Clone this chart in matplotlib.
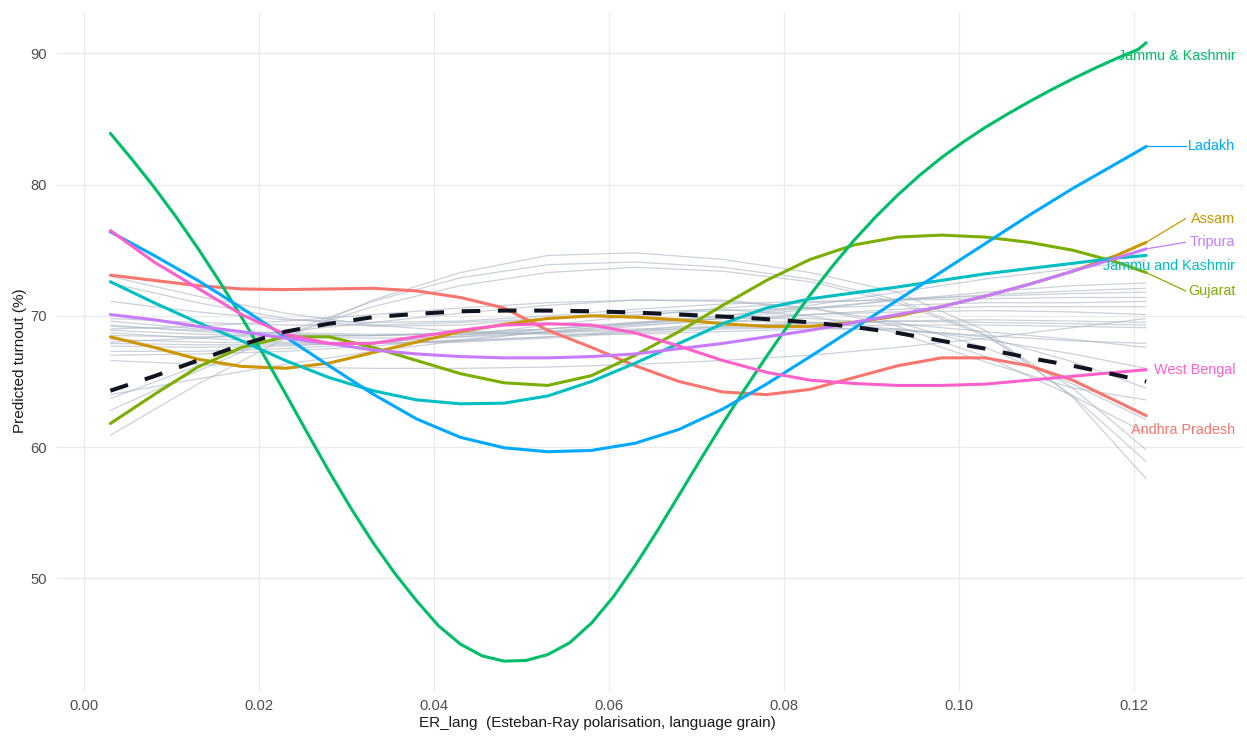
import matplotlib
matplotlib.use("Agg")
import matplotlib.pyplot as plt

# ---- data -------------------------------------------------------------
# ER_lang evaluation grid for the highlighted states and the overall curve
x_fine = [0.003, 0.008, 0.013, 0.018, 0.023, 0.028, 0.033, 0.038, 0.043,
          0.048, 0.053, 0.058, 0.063, 0.068, 0.073, 0.078, 0.083, 0.088,
          0.093, 0.098, 0.103, 0.108, 0.113, 0.118, 0.1214]

andhra_pradesh = [73.1, 72.7, 72.3, 72.05, 72.0, 72.05, 72.1, 71.9, 71.4, 70.6,
                  68.9, 67.6, 66.2, 65.0, 64.2, 64.0, 64.4, 65.3, 66.2, 66.8,
                  66.8, 66.2, 65.1, 63.5, 62.4]
assam = [68.4, 67.6, 66.7, 66.15, 66.0, 66.4, 67.2, 68.0, 68.8, 69.35, 69.8,
         70.0, 69.9, 69.7, 69.4, 69.2, 69.2, 69.5, 70.0, 70.7, 71.5, 72.4,
         73.4, 74.6, 75.6]
gujarat = [61.8, 64.0, 66.1, 67.6, 68.4, 68.4, 67.6, 66.6, 65.6, 64.9, 64.7,
           65.45, 67.0, 68.8, 70.8, 72.7, 74.3, 75.4, 76.0, 76.15, 76.0, 75.6,
           75.0, 74.1, 73.3]
jammu_and_kashmir = [72.6, 71.0, 69.5, 68.1, 66.6, 65.3, 64.3, 63.6, 63.3, 63.35,
                     63.9, 65.0, 66.4, 67.9, 69.4, 70.6, 71.3, 71.75, 72.2, 72.7,
                     73.2, 73.6, 74.0, 74.4, 74.6]
ladakh = [76.4, 74.6, 72.7, 70.6, 68.4, 66.2, 64.05, 62.15, 60.75, 59.95, 59.65,
          59.75, 60.3, 61.35, 62.9, 64.8, 66.9, 69.05, 71.2, 73.35, 75.5, 77.65,
          79.7, 81.6, 82.9]
tripura = [70.1, 69.7, 69.2, 68.8, 68.3, 67.9, 67.4, 67.1, 66.9, 66.8, 66.8, 66.9,
           67.1, 67.5, 67.9, 68.4, 68.9, 69.5, 70.1, 70.7, 71.5, 72.4, 73.4, 74.4,
           75.1]
west_bengal = [76.5, 74.1, 72.1, 70.1, 68.6, 67.9, 67.9, 68.4, 68.9, 69.3, 69.4,
               69.3, 68.7, 67.7, 66.6, 65.7, 65.1, 64.85, 64.7, 64.7, 64.8, 65.1,
               65.4, 65.7, 65.9]
overall = [64.3, 65.4, 66.6, 67.8, 68.8, 69.4, 69.9, 70.15, 70.35, 70.4, 70.4,
           70.35, 70.25, 70.1, 69.95, 69.75, 69.5, 69.15, 68.7, 68.1, 67.5, 66.8,
           66.2, 65.5, 65.0]

# Jammu & Kashmir swings far more, so it is kept on a denser grid
x_dense = [0.003, 0.0055, 0.008, 0.0105, 0.013, 0.0155, 0.018, 0.0205, 0.023,
           0.0255, 0.028, 0.0305, 0.033, 0.0355, 0.038, 0.0405, 0.043, 0.0455,
           0.048, 0.0505, 0.053, 0.0555, 0.058, 0.0605, 0.063, 0.0655, 0.068,
           0.0705, 0.073, 0.0755, 0.078, 0.0805, 0.083, 0.0855, 0.088, 0.0905,
           0.093, 0.0955, 0.098, 0.1005, 0.103, 0.1055, 0.108, 0.1105, 0.113,
           0.1155, 0.118, 0.1205, 0.1214]
jammu_amp_kashmir = [83.9, 81.9, 79.8, 77.55, 75.15, 72.6, 69.9, 67.05, 64.1,
                     61.1, 58.15, 55.35, 52.75, 50.4, 48.3, 46.4, 45.0, 44.1,
                     43.7, 43.75, 44.2, 45.1, 46.6, 48.6, 51.0, 53.6, 56.35,
                     59.1, 61.8, 64.4, 66.9, 69.3, 71.6, 73.75, 75.75, 77.55,
                     79.2, 80.7, 82.05, 83.25, 84.35, 85.35, 86.3, 87.2, 88.05,
                     88.85, 89.6, 90.3, 90.8]

highlight_names = ["Andhra Pradesh", "Assam", "Gujarat", "Jammu & Kashmir",
                   "Jammu and Kashmir", "Ladakh", "Tripura", "West Bengal"]
highlight_x = [x_fine, x_fine, x_fine, x_dense, x_fine, x_fine, x_fine, x_fine]
highlight_values = [andhra_pradesh, assam, gujarat, jammu_amp_kashmir,
                    jammu_and_kashmir, ladakh, tripura, west_bengal]
highlight_colors = ["#F8766D", "#CD9600", "#7CAE00", "#00BE67",
                    "#00BFC4", "#00A9FF", "#C77CFF", "#FF61CC"]
# vertical nudge of each end label relative to the curve's last value
label_nudge = [-1.1, 1.8, -1.4, -1.0, -0.8, 0.0, 0.5, 0.0]
label_leader = [False, True, True, False, False, True, True, False]

# remaining states, on a coarser grid
x_coarse = [0.003, 0.013, 0.023, 0.033, 0.043, 0.053, 0.063, 0.073, 0.083,
            0.093, 0.103, 0.113, 0.1214]
other_states = [
    [60.9, 64.8, 68.3, 71.2, 73.3, 74.6, 74.8, 74.3, 73.3, 71.8, 68.9, 63.8, 57.6],
    [62.8, 65.8, 68.7, 71.1, 72.9, 73.9, 74.1, 73.7, 72.8, 71.2, 68.6, 63.9, 58.9],
    [63.7, 66.2, 68.6, 70.7, 72.3, 73.3, 73.7, 73.4, 72.6, 71.0, 68.5, 64.5, 59.8],
    [73.0, 71.5, 70.2, 69.3, 68.8, 68.6, 68.6, 68.8, 69.0, 69.0, 68.4, 66.5, 64.5],
    [72.5, 71.0, 69.8, 69.2, 69.3, 69.8, 70.3, 70.5, 70.0, 68.7, 66.5, 64.5, 63.6],
    [71.1, 70.3, 69.7, 69.5, 69.6, 70.0, 70.5, 70.9, 71.1, 71.2, 71.3, 71.4, 71.4],
    [69.8, 69.5, 69.3, 69.3, 69.5, 69.8, 70.1, 70.4, 70.6, 70.8, 71.0, 71.0, 71.1],
    [69.6, 69.0, 68.6, 68.5, 68.6, 68.8, 69.0, 69.2, 69.4, 69.6, 69.7, 69.6, 69.5],
    [69.3, 68.8, 68.5, 68.5, 68.7, 69.0, 69.4, 69.8, 70.1, 70.3, 70.4, 70.3, 70.1],
    [69.2, 68.9, 68.7, 68.6, 68.6, 68.7, 68.9, 69.1, 69.2, 69.3, 69.3, 69.2, 69.1],
    [68.9, 68.6, 68.4, 68.3, 68.4, 68.7, 69.2, 69.8, 70.5, 71.2, 71.8, 72.3, 72.5],
    [68.7, 68.3, 68.0, 67.9, 68.0, 68.3, 68.7, 69.0, 69.1, 68.9, 68.5, 68.1, 67.9],
    [68.5, 68.4, 68.4, 68.5, 68.7, 69.0, 69.5, 70.0, 70.6, 71.2, 71.6, 71.9, 72.1],
    [68.2, 68.0, 67.9, 67.9, 68.1, 68.4, 68.9, 69.5, 70.1, 70.5, 70.7, 70.7, 70.7],
    [67.9, 67.8, 67.8, 67.9, 68.1, 68.4, 68.8, 69.2, 69.5, 69.6, 69.5, 69.4, 69.3],
    [67.7, 67.6, 67.7, 68.0, 68.4, 69.0, 69.5, 69.8, 69.8, 69.4, 68.8, 68.2, 67.6],
    [67.3, 67.3, 67.5, 67.9, 68.5, 69.3, 70.0, 70.6, 71.0, 71.3, 71.5, 71.7, 71.8],
    [67.0, 67.1, 67.3, 67.7, 68.2, 68.8, 69.3, 69.6, 69.5, 69.0, 68.2, 67.1, 66.0],
    [66.6, 66.3, 66.1, 66.0, 66.0, 66.1, 66.3, 66.6, 67.0, 67.6, 68.3, 69.1, 69.8],
    [64.0, 65.2, 66.3, 67.3, 68.1, 68.8, 69.4, 70.0, 70.8, 71.8, 72.8, 73.6, 74.2],
    [69.0, 69.2, 69.6, 70.1, 70.6, 71.0, 71.2, 71.1, 70.6, 69.5, 67.6, 64.8, 62.1],
    [68.0, 68.3, 68.8, 69.5, 70.2, 70.8, 71.2, 71.2, 70.6, 69.2, 66.9, 63.9, 61.1],
]

x_ticks = [0.00, 0.02, 0.04, 0.06, 0.08, 0.10, 0.12]
x_ticklabels = ["0.00", "0.02", "0.04", "0.06", "0.08", "0.10", "0.12"]
y_ticks = [50, 60, 70, 80, 90]

# ---- figure -----------------------------------------------------------
plt.rcParams["font.family"] = ["Liberation Sans", "DejaVu Sans"]

fig = plt.figure(figsize=(12.47, 7.36), dpi=100)
ax = fig.add_axes([0.0457, 0.0598, 0.952, 0.924])

for vals in other_states:
    ax.plot(x_coarse, vals, color="#a9b4c2", lw=0.9, alpha=0.6, zorder=2,
            solid_capstyle="butt")

for xs, vals, col in zip(highlight_x, highlight_values, highlight_colors):
    ax.plot(xs, vals, color=col, lw=2.2, zorder=3, solid_capstyle="round",
            solid_joinstyle="round")

ax.plot(x_fine, overall, color="#0f1420", lw=2.9, zorder=4,
        dashes=(4.6, 4.4), dash_capstyle="butt")

# end labels
label_right = 0.1316
leader_end = 0.1259
for name, xs, vals, col, nudge, lead in zip(highlight_names, highlight_x,
                                            highlight_values, highlight_colors,
                                            label_nudge, label_leader):
    y_end = vals[-1]
    y_lab = y_end + nudge
    if lead:
        ax.plot([xs[-1], leader_end], [y_end, y_lab], color=col, lw=0.9,
                zorder=3)
    ax.text(label_right, y_lab, name, color=col, fontsize=10.4,
            ha="right", va="center", zorder=5)

ax.set_xlim(-0.0031, 0.1326)
ax.set_ylim(41.35, 93.15)
ax.set_xticks(x_ticks)
ax.set_xticklabels(x_ticklabels)
ax.set_yticks(y_ticks)

ax.grid(True, color="#ebebeb", lw=1.0)
ax.set_axisbelow(True)
for s in ax.spines.values():
    s.set_visible(False)
ax.tick_params(length=0, labelsize=10.6, colors="#4d4d4d")
ax.tick_params(axis="y", pad=7)
ax.tick_params(axis="x", pad=5)

ax.set_xlabel("ER_lang  (Esteban-Ray polarisation, language grain)",
              fontsize=11, color="#1a1a1a")
ax.set_ylabel("Predicted turnout (%)", fontsize=11, color="#1a1a1a")
ax.xaxis.set_label_coords(0.455, -0.036)
ax.yaxis.set_label_coords(-0.025, 0.487)

fig.savefig("out.png", dpi=100, facecolor="white")
